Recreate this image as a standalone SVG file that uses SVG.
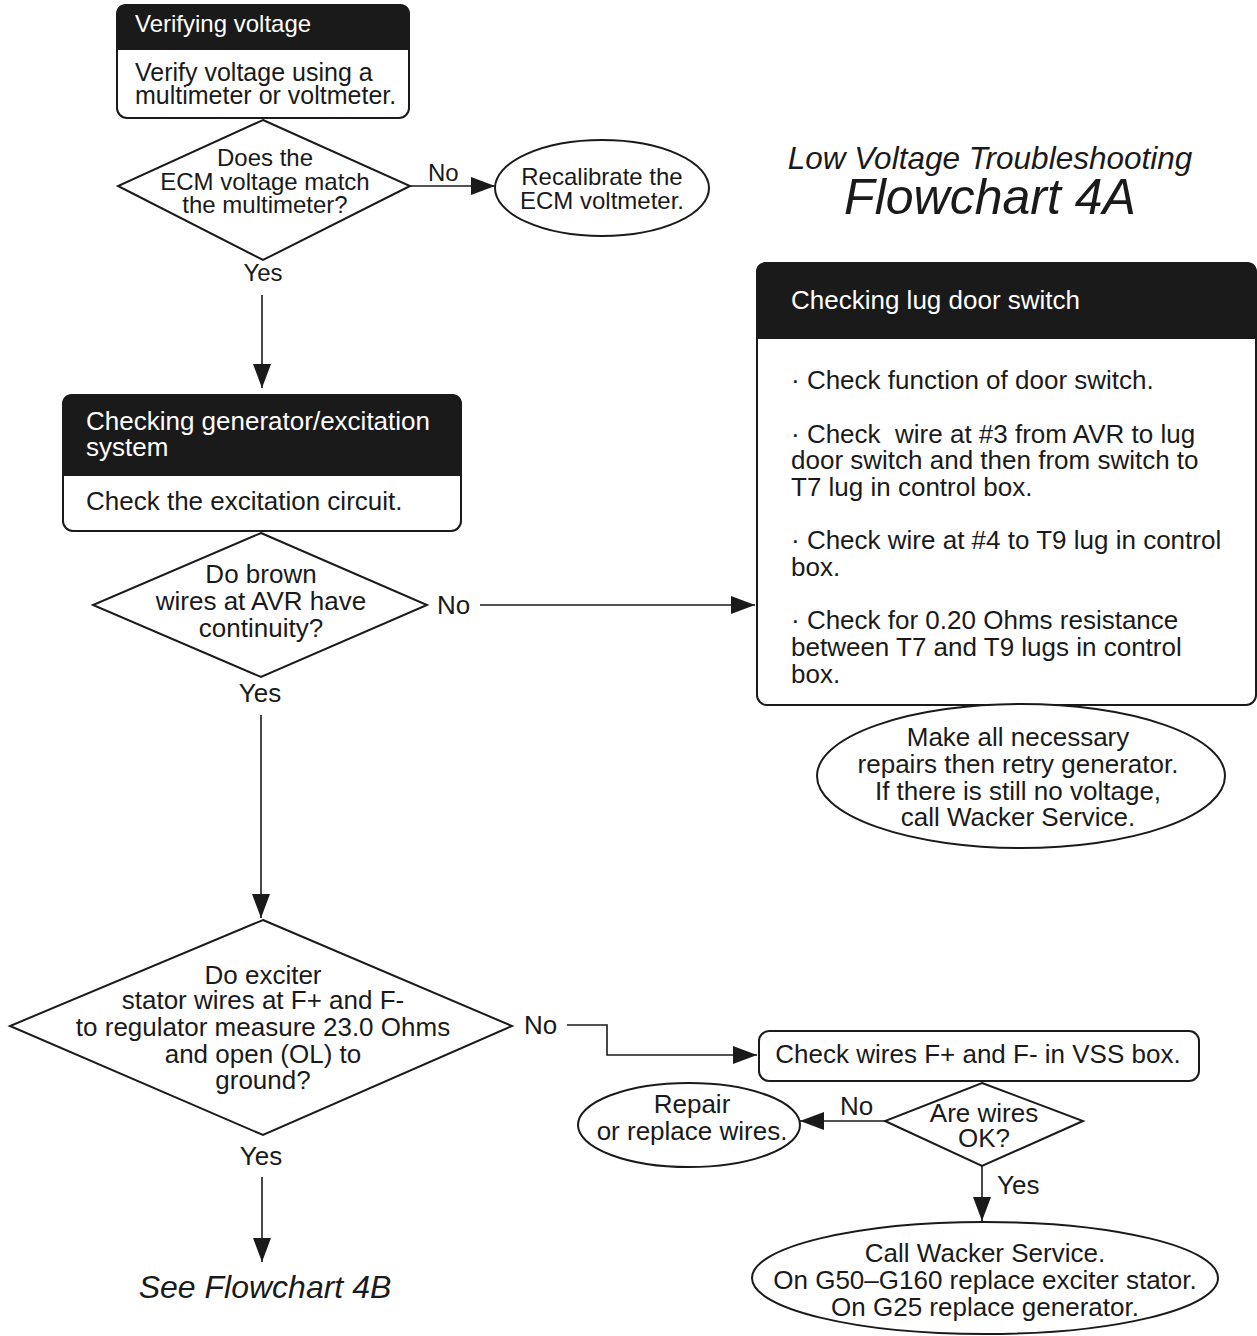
<svg xmlns="http://www.w3.org/2000/svg" width="1257" height="1336" viewBox="0 0 1257 1336">
<style>
text{font-family:"Liberation Sans",Arial,sans-serif;fill:#1a1a1a;font-size:26px}
.s24{font-size:24px}
.w{fill:#fff}
.c{text-anchor:middle}
.it{font-style:italic}
.shape{fill:#fff;stroke:#1a1a1a;stroke-width:2}
.hdr{fill:#1a1a1a;stroke:#1a1a1a;stroke-width:2}
.conn{fill:none;stroke:#1a1a1a;stroke-width:1.6}
</style>
<defs>
<marker id="ah" markerUnits="userSpaceOnUse" markerWidth="24" markerHeight="18" refX="24" refY="9" orient="auto">
<path d="M0,0 L24,9 L0,18 z" fill="#1a1a1a"/>
</marker>
</defs>
<rect width="1257" height="1336" fill="#fff"/>

<g id="title">
<text class="c it" x="990" y="169" style="font-size:31.5px">Low Voltage Troubleshooting</text>
<text class="c it" x="990" y="214" style="font-size:50px">Flowchart 4A</text>
</g>

<g id="connectors">
<path class="conn" d="M410,186 H495" marker-end="url(#ah)"/>
<path class="conn" d="M262,295 V388" marker-end="url(#ah)"/>
<path class="conn" d="M480,605 H755" marker-end="url(#ah)"/>
<path class="conn" d="M261,715 V918" marker-end="url(#ah)"/>
<path class="conn" d="M567,1025 H607 V1055 H757" marker-end="url(#ah)"/>
<path class="conn" d="M885,1121 H800" marker-end="url(#ah)"/>
<path class="conn" d="M982,1166 V1221" marker-end="url(#ah)"/>
<path class="conn" d="M262,1177 V1262" marker-end="url(#ah)"/>
<text class="s24" x="428" y="181">No</text>
<text class="s24 c" x="263" y="281">Yes</text>
<text x="437" y="614">No</text>
<text class="c" x="260" y="702">Yes</text>
<text x="524" y="1034">No</text>
<text class="c" x="261" y="1165">Yes</text>
<text x="840" y="1115">No</text>
<text x="997" y="1194">Yes</text>
</g>

<g id="verifying-voltage">
<rect class="shape" x="117" y="5" width="292" height="113" rx="10"/>
<path class="hdr" d="M117,49 V15 Q117,5 127,5 H399 Q409,5 409,15 V49 Z"/>
<text class="s24 w" x="135" y="32">Verifying voltage</text>
<text x="135" y="81" style="font-size:25px">Verify voltage using a</text>
<text x="135" y="104" style="font-size:25px">multimeter or voltmeter.</text>
</g>

<g id="ecm-match">
<polygon class="shape" points="263,120 410,186 263,260 118,186"/>
<text class="s24 c" x="265" y="166">Does the</text>
<text class="s24 c" x="265" y="190">ECM voltage match</text>
<text class="s24 c" x="265" y="213">the multimeter?</text>
</g>

<g id="recalibrate">
<ellipse class="shape" cx="602" cy="188" rx="107" ry="48"/>
<text class="s24 c" x="602" y="185">Recalibrate the</text>
<text class="s24 c" x="602" y="209">ECM voltmeter.</text>
</g>

<g id="generator-excitation">
<rect class="shape" x="63" y="395" width="398" height="136" rx="10"/>
<path class="hdr" d="M63,475 V405 Q63,395 73,395 H451 Q461,395 461,405 V475 Z"/>
<text class="w" x="86" y="430">Checking generator/excitation</text>
<text class="w" x="86" y="456">system</text>
<text x="86" y="510">Check the excitation circuit.</text>
</g>

<g id="brown-wires">
<polygon class="shape" points="261,533 427,605 261,677 93,605"/>
<text class="c" x="261" y="583">Do brown</text>
<text class="c" x="261" y="610">wires at AVR have</text>
<text class="c" x="261" y="637">continuity?</text>
</g>

<g id="lug-door-switch">
<rect class="shape" x="757" y="263" width="499" height="442" rx="10"/>
<path class="hdr" d="M757,338 V273 Q757,263 767,263 H1246 Q1256,263 1256,273 V338 Z"/>
<text class="w" x="791" y="309">Checking lug door switch</text>
<text x="791" y="389">· Check function of door switch.</text>
<text x="791" y="443" xml:space="preserve">· Check  wire at #3 from AVR to lug</text>
<text x="791" y="469">door switch and then from switch to</text>
<text x="791" y="496">T7 lug in control box.</text>
<text x="791" y="549">· Check wire at #4 to T9 lug in control</text>
<text x="791" y="576">box.</text>
<text x="791" y="629">· Check for 0.20 Ohms resistance</text>
<text x="791" y="656">between T7 and T9 lugs in control</text>
<text x="791" y="683">box.</text>
</g>

<g id="make-repairs">
<ellipse class="shape" cx="1021" cy="776" rx="204" ry="72"/>
<text class="c" x="1018" y="746">Make all necessary</text>
<text class="c" x="1018" y="773">repairs then retry generator.</text>
<text class="c" x="1018" y="800">If there is still no voltage,</text>
<text class="c" x="1018" y="826">call Wacker Service.</text>
</g>

<g id="exciter-stator">
<polygon class="shape" points="263,920 512,1026 263,1135 10,1026"/>
<text class="c" x="263" y="984">Do exciter</text>
<text class="c" x="263" y="1009">stator wires at F+ and F-</text>
<text class="c" x="263" y="1036">to regulator measure 23.0 Ohms</text>
<text class="c" x="263" y="1063">and open (OL) to</text>
<text class="c" x="263" y="1089">ground?</text>
</g>

<g id="check-vss">
<rect class="shape" x="759" y="1031" width="440" height="50" rx="10"/>
<text class="c" x="978" y="1063">Check wires F+ and F- in VSS box.</text>
</g>

<g id="wires-ok">
<polygon class="shape" points="982,1083 1083,1121 982,1166 885,1121"/>
<text class="c" x="984" y="1122">Are wires</text>
<text class="c" x="984" y="1147">OK?</text>
</g>

<g id="repair-wires">
<ellipse class="shape" cx="689" cy="1125" rx="111" ry="42"/>
<text class="c" x="692" y="1113">Repair</text>
<text class="c" x="692" y="1140">or replace wires.</text>
</g>

<g id="call-wacker">
<ellipse class="shape" cx="985" cy="1278" rx="233" ry="56"/>
<text class="c" x="985" y="1262">Call Wacker Service.</text>
<text class="c" x="985" y="1289">On G50–G160 replace exciter stator.</text>
<text class="c" x="985" y="1316">On G25 replace generator.</text>
</g>

<g id="see-4b">
<text class="c it" x="265" y="1298" style="font-size:32px">See Flowchart 4B</text>
</g>
</svg>
